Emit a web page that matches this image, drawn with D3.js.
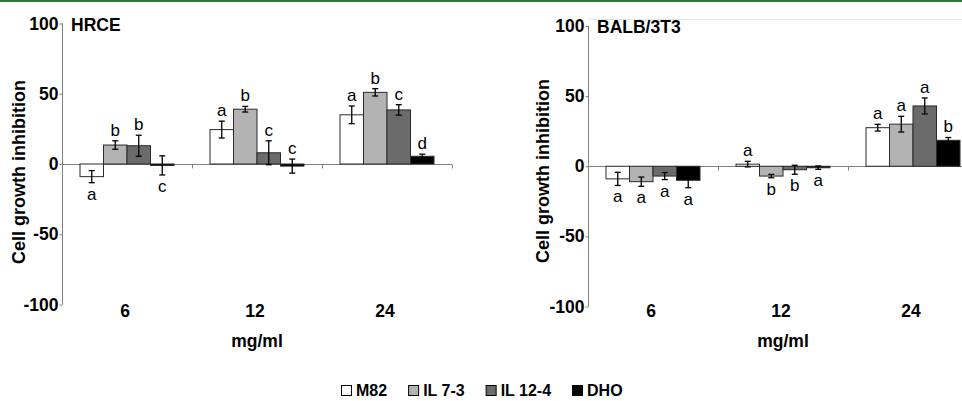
<!DOCTYPE html>
<html>
<head>
<meta charset="utf-8">
<script src="https://cdn.jsdelivr.net/npm/d3@7"></script>
<style>
  html, body { margin: 0; padding: 0; background: #fff; }
  svg { display: block; font-family: "Liberation Sans", Arial, sans-serif; }
</style>
</head>
<body>
<svg id="chart" width="962" height="401"></svg>
<script>
// ---------- data ----------
const categories = ["6", "12", "24"];
const seriesNames = ["M82", "IL 7-3", "IL 12-4", "DHO"];
const yTicks = [-100, -50, 0, 50, 100];

// HRCE: one row per series, one value per category
const hrceMeans  = [[-9, 24.5, 35], [13.5, 39, 51], [13, 8, 38.5], [-1, -1.5, 5.5]];
const hrceErrors = [[4.3, 6, 6.3], [3, 2, 2.6], [7.5, 8.5, 3.7], [6.8, 5, 1.5]];
const hrceLetters = [["a", "a", "a"], ["b", "b", "b"], ["b", "c", "c"], ["c", "c", "d"]];
const hrceLetterSide = [["below", "above", "above"], ["above", "above", "above"], ["above", "above", "above"], ["below", "above", "above"]];

// BALB/3T3
const balbMeans  = [[-9, 1.5, 27.5], [-11, -7, 30], [-7, -2.5, 43], [-10, -1, 18.5]];
const balbErrors = [[4.7, 2, 2.4], [3.3, 1.2, 5.6], [2.5, 3.2, 5.7], [5.3, 1.2, 2]];
const balbLetters = [["a", "a", "a"], ["a", "b", "a"], ["a", "b", "a"], ["a", "a", "b"]];
const balbLetterSide = [["below", "above", "above"], ["below", "below", "above"], ["below", "below", "above"], ["below", "below", "above"]];

const seriesColors = ["#ffffff", "#b3b3b3", "#6b6b6b", "#000000"];

// ---------- drawing ----------
const svg = d3.select("#chart");
const FONT = "Liberation Sans, Arial, sans-serif";
const BIG = 17.5;

// top green rule
svg.append("rect").attr("x", 0).attr("y", 0).attr("width", 962).attr("height", 2).attr("fill", "#2b7a3c");

function drawPanel(cfg) {
  const g = svg.append("g");
  const x0 = d3.scaleBand().domain(categories).range([cfg.left, cfg.left + 390]).padding(0);
  const groupW = 94;
  const x1 = d3.scaleBand().domain(seriesNames)
    .range([(x0.bandwidth() - groupW) / 2, (x0.bandwidth() + groupW) / 2]).padding(0);
  const y = d3.scaleLinear().domain([-100, 100]).range([cfg.bottom, cfg.top]);

  if (cfg.frameTop) {
    g.append("line").attr("x1", cfg.left).attr("x2", 962)
      .attr("y1", cfg.frameTop).attr("y2", cfg.frameTop)
      .attr("stroke", "#e6e6e6").attr("stroke-width", 1);
  }

  // y axis
  const yAxis = d3.axisLeft(y).tickValues(yTicks).tickSize(3).tickPadding(1).tickFormat(d => String(d));
  const ya = g.append("g").attr("transform", `translate(${cfg.left + 0.5},0)`).call(yAxis);
  ya.select(".domain").attr("stroke", "#808080").attr("d", `M-0.5,${y(100)}H0V${y(-100)}`);
  ya.selectAll(".tick line").attr("stroke", "#808080");
  ya.selectAll(".tick text").attr("font-size", BIG).attr("font-weight", "bold")
    .attr("fill", "#000").attr("font-family", FONT);

  // x axis along zero line
  const zeroY = Math.round(y(0)) + 0.5;
  g.append("line").attr("x1", cfg.left).attr("x2", cfg.left + 390)
    .attr("y1", zeroY).attr("y2", zeroY).attr("stroke", "#808080").attr("stroke-width", 1);
  categories.forEach((c, i) => {
    if (i === 0) return;
    const xx = Math.round(x0(c)) + 0.5;
    g.append("line").attr("x1", xx).attr("x2", xx).attr("y1", zeroY).attr("y2", zeroY + 4)
      .attr("stroke", "#808080");
  });
  const xEnd = cfg.left + 390 + 0.5;
  g.append("line").attr("x1", xEnd).attr("x2", xEnd).attr("y1", zeroY).attr("y2", zeroY + 4).attr("stroke", "#808080");

  // category labels at bottom
  g.selectAll("text.cat").data(categories).enter().append("text")
    .attr("class", "cat")
    .attr("x", d => x0(d) + x0.bandwidth() / 2 - 2)
    .attr("y", cfg.catY)
    .attr("text-anchor", "middle").attr("font-size", BIG).attr("font-weight", "bold")
    .text(d => d);

  // bars
  seriesNames.forEach((s, si) => {
    categories.forEach((c, ci) => {
      const v = cfg.means[si][ci];
      const e = cfg.errors[si][ci];
      const bx = x0(c) + x1(s);
      const bw = x1.bandwidth();
      const y0 = y(0), yv = y(v);
      g.append("rect")
        .attr("x", bx).attr("width", bw)
        .attr("y", Math.min(y0, yv)).attr("height", Math.max(Math.abs(yv - y0), 1.5))
        .attr("fill", seriesColors[si]).attr("stroke", "#2a2a2a").attr("stroke-width", 1);
      // error bar
      const cx = bx + bw / 2;
      const yt = y(v + e), yb = y(v - e);
      g.append("line").attr("x1", cx).attr("x2", cx).attr("y1", yt).attr("y2", yb)
        .attr("stroke", "#000").attr("stroke-width", 1.3);
      [yt, yb].forEach(yy => {
        g.append("line").attr("x1", cx - 3).attr("x2", cx + 3).attr("y1", yy).attr("y2", yy)
          .attr("stroke", "#000").attr("stroke-width", 1.3);
      });
      // significance letter
      const side = cfg.sides[si][ci];
      g.append("text")
        .attr("x", cx)
        .attr("y", side === "above" ? yt - 5 : yb + 17)
        .attr("text-anchor", "middle").attr("font-size", 17)
        .text(cfg.letters[si][ci]);
    });
  });

  // title
  g.append("text").attr("x", cfg.left + 9).attr("y", cfg.titleY)
    .attr("font-size", BIG).attr("font-weight", "bold").text(cfg.title);

  // y label
  g.append("text")
    .attr("transform", `translate(${cfg.yLabelX},${cfg.yLabelMid}) rotate(-90)`)
    .attr("text-anchor", "middle").attr("font-size", 18).attr("font-weight", "bold")
    .text("Cell growth inhibition");

  // x label
  g.append("text").attr("x", x0("12") + x0.bandwidth() / 2).attr("y", cfg.xLabelY)
    .attr("text-anchor", "middle").attr("font-size", BIG).attr("font-weight", "bold")
    .text("mg/ml");
}

drawPanel({
  left: 62, top: 23.5, bottom: 304.5,
  means: hrceMeans, errors: hrceErrors, letters: hrceLetters, sides: hrceLetterSide,
  title: "HRCE", titleY: 31, catY: 317, xLabelY: 347, yLabelX: 25, yLabelMid: 172
});
drawPanel({
  left: 588, top: 26, bottom: 306.5,
  means: balbMeans, errors: balbErrors, letters: balbLetters, sides: balbLetterSide,
  title: "BALB/3T3", titleY: 33, catY: 317, xLabelY: 347, yLabelX: 549, yLabelMid: 171,
  frameTop: 19.5
});

// legend
const legend = svg.append("g");
let lx = 341;
seriesNames.forEach((s, i) => {
  legend.append("rect").attr("x", lx + 0.5).attr("y", 385.5).attr("width", 10).attr("height", 10)
    .attr("fill", seriesColors[i]).attr("stroke", "#000").attr("stroke-width", 1);
  const t = legend.append("text").attr("x", lx + 15).attr("y", 396)
    .attr("font-size", 16).attr("font-weight", "bold").text(s);
  lx = lx + 15 + t.node().getComputedTextLength() + 21;
});
</script>
</body>
</html>
